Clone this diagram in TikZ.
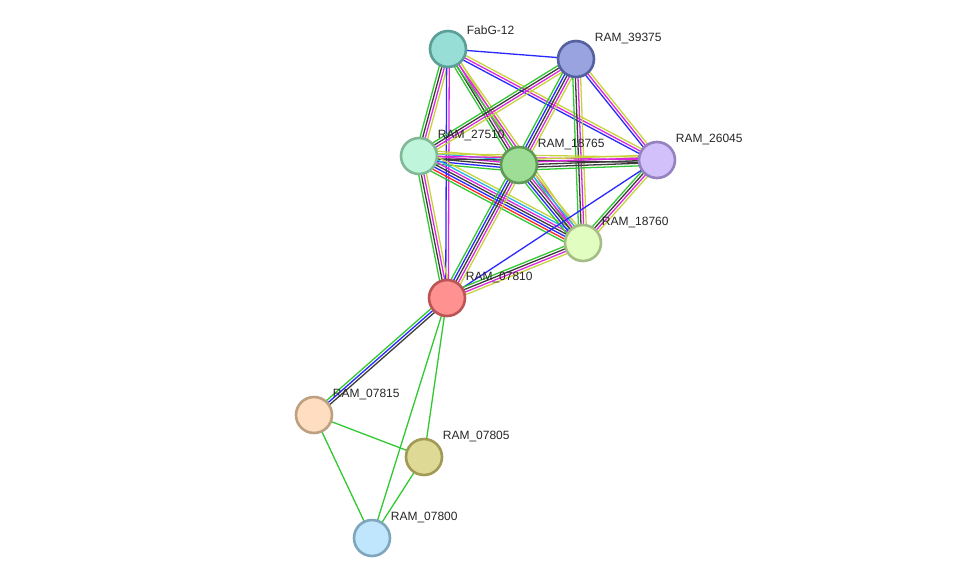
\documentclass[tikz,border=0pt]{standalone}
\usepackage{fontspec}
\setmainfont{Liberation Sans}
\usetikzlibrary{calc, backgrounds}

% ---- evidence colours ----
\definecolor{nbh}{RGB}{50,200,50}
\definecolor{fus}{RGB}{255,40,40}
\definecolor{cooc}{RGB}{40,40,255}
\definecolor{coexp}{RGB}{60,60,60}
\definecolor{expt}{RGB}{220,40,220}
\definecolor{dbase}{RGB}{40,180,230}
\definecolor{tmine}{RGB}{200,210,60}

\begin{document}
\begin{tikzpicture}[x=1pt, y=-1pt,
  prot/.style={circle, draw, line width=2.6pt, minimum size=36pt,
               inner sep=0pt},
  lbl/.style={font=\fontsize{12}{14}\selectfont, text=black!85,
              inner sep=1pt, xshift=4pt, label distance=0pt},
  evline/.style={line width=1.3pt},
]
\useasboundingbox (0,0) rectangle (975,584);

% ---- proteins ----
\node[prot, fill={rgb,255:red,151;green,222;blue,214}, draw={rgb,255:red,90;green,158;blue,150},
      label={[lbl]north east:FabG-12}] (fabg) at (448,49) {};
\node[prot, fill={rgb,255:red,152;green,163;blue,223}, draw={rgb,255:red,84;green,96;blue,160},
      label={[lbl]north east:RAM\_39375}] (r39375) at (576,59) {};
\node[prot, fill={rgb,255:red,191;green,245;blue,218}, draw={rgb,255:red,128;green,184;blue,152},
      label={[lbl]north east:RAM\_27510}] (r27510) at (419,156) {};
\node[prot, fill={rgb,255:red,158;green,221;blue,149}, draw={rgb,255:red,94;green,154;blue,85},
      label={[lbl]north east:RAM\_18765}] (r18765) at (519,165) {};
\node[prot, fill={rgb,255:red,210;green,192;blue,251}, draw={rgb,255:red,149;green,128;blue,192},
      label={[lbl]north east:RAM\_26045}] (r26045) at (657,160) {};
\node[prot, fill={rgb,255:red,226;green,253;blue,192}, draw={rgb,255:red,164;green,189;blue,134},
      label={[lbl]north east:RAM\_18760}] (r18760) at (583,243) {};
\node[prot, fill={rgb,255:red,255;green,145;blue,144}, draw={rgb,255:red,187;green,85;blue,85},
      label={[lbl]north east:RAM\_07810}] (r07810) at (447,298) {};
\node[prot, fill={rgb,255:red,254;green,221;blue,192}, draw={rgb,255:red,188;green,160;blue,128},
      label={[lbl]north east:RAM\_07815}] (r07815) at (314,415) {};
\node[prot, fill={rgb,255:red,222;green,218;blue,150}, draw={rgb,255:red,160;green,154;blue,85},
      label={[lbl]north east:RAM\_07805}] (r07805) at (424,457) {};
\node[prot, fill={rgb,255:red,191;green,230;blue,252}, draw={rgb,255:red,128;green,166;blue,190},
      label={[lbl]north east:RAM\_07800}] (r07800) at (372,538) {};

% ---- interactions ----
\begin{scope}[on background layer]
\foreach \a/\b/\n/\cols in {
    fabg/r39375/1/{cooc},
    fabg/r27510/4/{nbh,coexp,expt,tmine},
    fabg/r18765/4/{nbh,coexp,expt,tmine},
    fabg/r18760/3/{nbh,expt,tmine},
    fabg/r26045/3/{cooc,expt,tmine},
    fabg/r07810/2/{cooc,expt},
    r39375/r27510/4/{nbh,coexp,expt,tmine},
    r39375/r18765/5/{nbh,cooc,coexp,expt,tmine},
    r39375/r18760/4/{nbh,coexp,expt,tmine},
    r39375/r26045/3/{cooc,expt,tmine},
    r27510/r18765/6/{nbh,cooc,coexp,expt,dbase,tmine},
    r27510/r26045/3/{coexp,expt,tmine},
    r27510/r18760/7/{nbh,fus,cooc,coexp,expt,dbase,tmine},
    r27510/r07810/4/{nbh,coexp,expt,tmine},
    r18765/r26045/5/{nbh,coexp,coexp,expt,tmine},
    r18765/r18760/6/{nbh,cooc,coexp,expt,dbase,tmine},
    r18765/r07810/5/{nbh,cooc,coexp,expt,tmine},
    r26045/r18760/4/{nbh,coexp,expt,tmine},
    r26045/r07810/1/{cooc},
    r18760/r07810/4/{nbh,coexp,expt,tmine},
    r07810/r07815/3/{nbh,cooc,coexp},
    r07810/r07805/1/{nbh},
    r07810/r07800/1/{nbh},
    r07815/r07805/1/{nbh},
    r07815/r07800/1/{nbh},
    r07805/r07800/1/{nbh}} {
  \foreach \c [count=\i] in \cols {
    \pgfmathsetmacro\off{(\i-(\n+1)/2)*2.6}
    \draw[evline, \c] ($(\a.center)!\off pt!90:(\b.center)$)
      -- ($(\b.center)!\off pt!-90:(\a.center)$);
  }
}
\end{scope}

\end{tikzpicture}
\end{document}
